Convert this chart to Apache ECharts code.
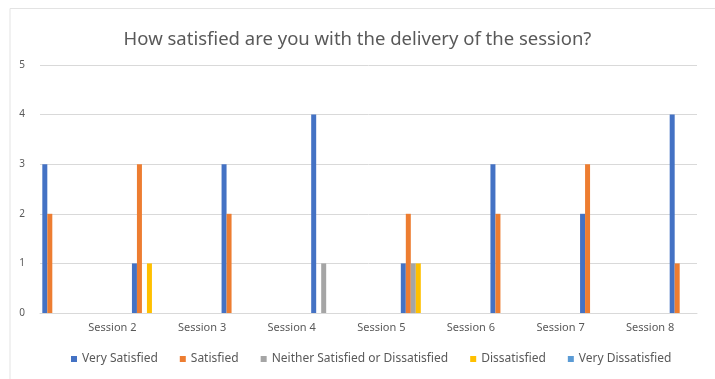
<!DOCTYPE html>
<html>
<head>
<meta charset="utf-8">
<title>Session satisfaction</title>
<script src="https://cdn.jsdelivr.net/npm/echarts@6/dist/echarts.min.js"></script>
<style>
    html, body { margin: 0; padding: 0; background: #fff; }
    #main { width: 715px; height: 379px; }
</style>
</head>
<body>
<div id="main"></div>
<script>
/*
 * 满意度柱状图 - 数据
 */
var sessions = ['Session 1', 'Session 2', 'Session 3', 'Session 4', 'Session 5', 'Session 6', 'Session 7', 'Session 8'];
var yTicks = [0, 1, 2, 3, 4, 5];

var verySatisfied    = [3, 1, 3, 4, 1, 3, 2, 4];
var satisfied        = [2, 3, 2, 0, 2, 2, 3, 1];
var neither          = [0, 0, 0, 1, 1, 0, 0, 0];
var dissatisfied     = [0, 1, 0, 0, 1, 0, 0, 0];
var veryDissatisfied = [0, 0, 0, 0, 0, 0, 0, 0];

var seriesNames = ['Very Satisfied', 'Satisfied', 'Neither Satisfied or Dissatisfied', 'Dissatisfied', 'Very Dissatisfied'];
var seriesData = [verySatisfied, satisfied, neither, dissatisfied, veryDissatisfied];
var colors = ['#4472C4', '#ED7D31', '#A5A5A5', '#FFC000', '#5B9BD5'];

var textColor = '#595959';
var lineColor = '#D9D9D9';

var chart = echarts.init(document.getElementById('main'));

var series = [];
for (var i = 0; i < seriesNames.length; i++) {
    series.push({
        name: seriesNames[i],
        type: 'bar',
        xAxisIndex: 1,
        yAxisIndex: 1,
        data: seriesData[i],
        barWidth: 5,
        barGap: '0%',
        itemStyle: { color: colors[i] }
    });
}

var option = {
    animation: false,
    color: colors,
    title: {
        text: 'How satisfied are you with the delivery of the session?',
        left: 'center',
        top: 25,
        textStyle: { color: textColor, fontSize: 18.5, fontWeight: 'normal', fontFamily: 'Noto Sans' }
    },
    legend: {
        data: seriesNames,
        left: 66,
        top: 348,
        icon: 'rect',
        itemWidth: 6,
        itemHeight: 6,
        itemGap: 22,
        textStyle: { color: textColor, fontSize: 12, fontFamily: 'Noto Sans' }
    },
    // grid 0: 网格线和y轴, grid 1: 柱子 (左侧被裁掉一部分)
    grid: [
        { left: 40, right: 18, top: 65, bottom: 66, outerBoundsMode: 'none' },
        { left: 10, width: 717, top: 65, bottom: 66, outerBoundsMode: 'none' }
    ],
    xAxis: [
        {
            type: 'category',
            gridIndex: 0,
            data: sessions,
            axisLine: { lineStyle: { color: lineColor } },
            axisTick: { show: false },
            axisLabel: { show: false }
        },
        {
            type: 'category',
            gridIndex: 1,
            data: sessions,
            axisLine: { show: false },
            axisTick: { show: false },
            axisLabel: {
                color: textColor,
                fontSize: 11,
                fontFamily: 'Noto Sans',
                margin: 9,
                padding: [0, 64, 0, 0],
                interval: function (index) { return index !== 0; }
            }
        }
    ],
    yAxis: [
        {
            type: 'value',
            gridIndex: 0,
            min: yTicks[0],
            max: yTicks[yTicks.length - 1],
            interval: 1,
            axisLine: { show: false },
            axisTick: { show: false },
            axisLabel: { color: textColor, fontSize: 10, fontFamily: 'Noto Sans', margin: 15 },
            splitLine: { lineStyle: { color: lineColor } }
        },
        {
            type: 'value',
            gridIndex: 1,
            min: yTicks[0],
            max: yTicks[yTicks.length - 1],
            interval: 1,
            show: false
        }
    ],
    graphic: [
        {
            type: 'polyline',
            shape: { points: [[10, 380], [10, 8.5], [716, 8.5]] },
            style: { stroke: '#E3E3E3', fill: null, lineWidth: 1 }
        }
    ],
    series: series
};

chart.setOption(option);
</script>
</body>
</html>
